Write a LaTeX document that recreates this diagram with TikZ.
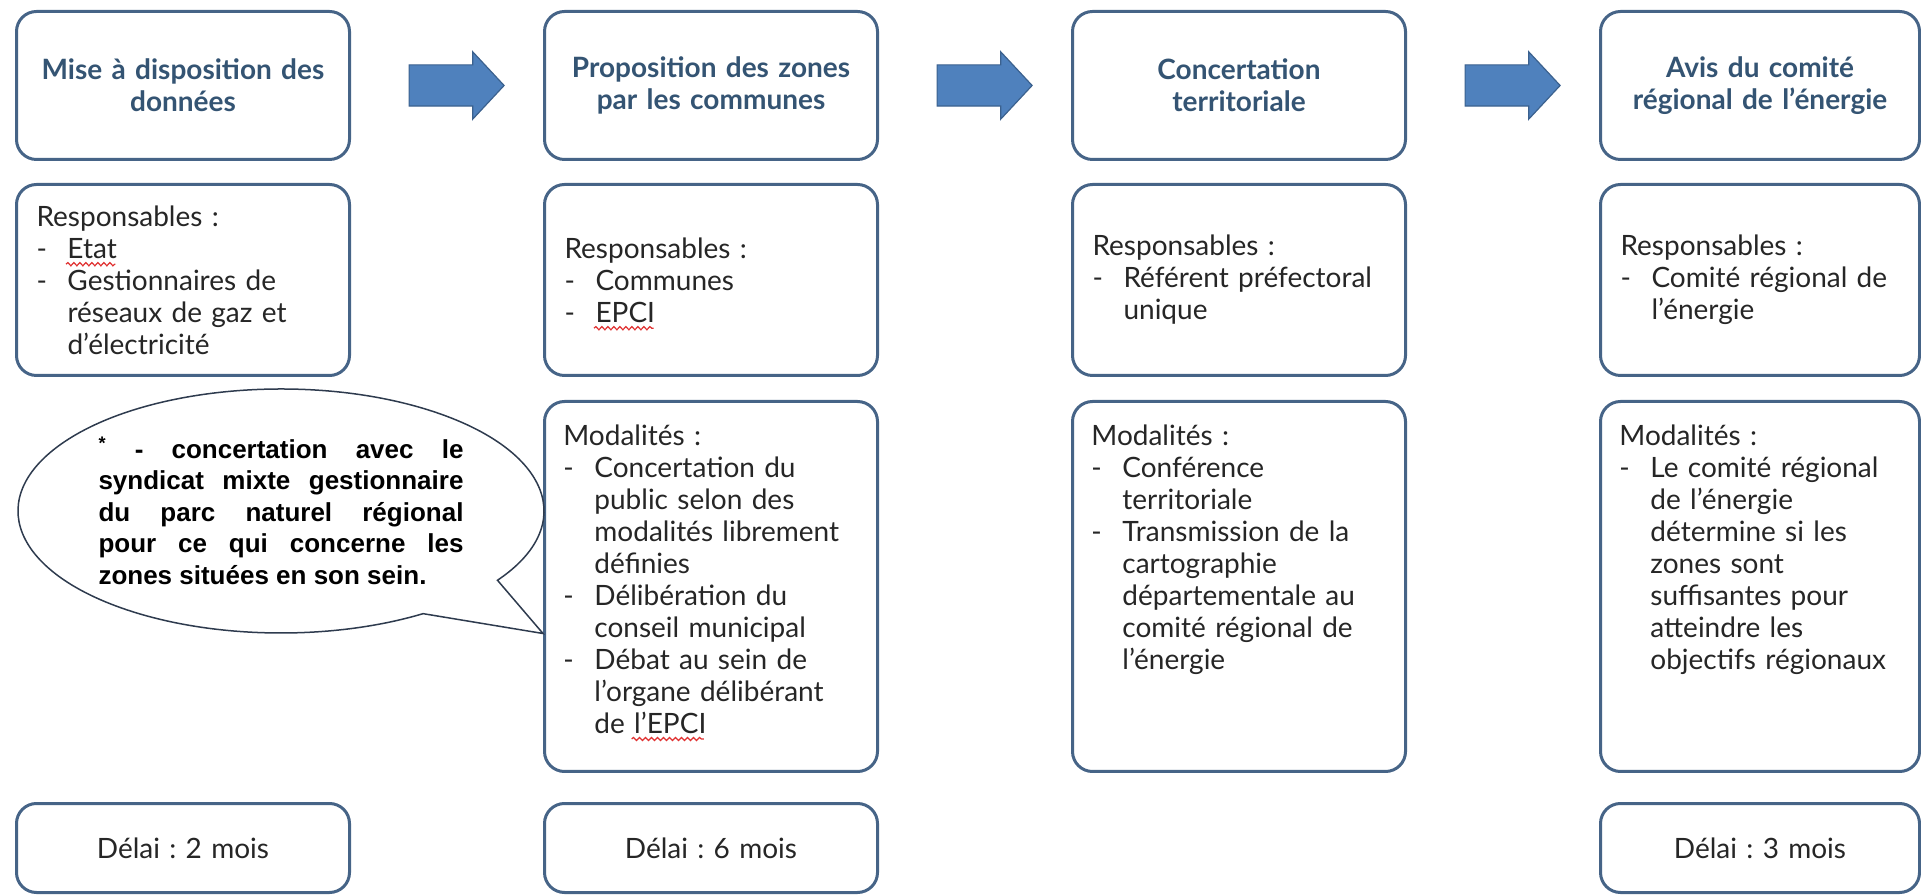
\documentclass[tikz,border=0pt]{standalone}
\usepackage{fontspec}
\setmainfont{Lato}
\newfontfamily\arialfont{Liberation Sans}
\usetikzlibrary{positioning,calc,shapes.arrows,decorations.pathmorphing}
\frenchspacing

\definecolor{colcadre}{HTML}{466487}
\definecolor{coltitre}{HTML}{345473}
\definecolor{colfleche}{HTML}{4F81BD}
\definecolor{coltexte}{HTML}{262626}
\definecolor{colbulle}{HTML}{2E3B4E}
\definecolor{colfaute}{HTML}{E03030}

\newcommand\tiret{\makebox[15.5pt][l]{-}}
\newcommand\retrait{\hspace*{15.5pt}}
\newlength\lgEtat
\newlength\lgEpci
\newlength\lgLepci
\newlength\lgDe
\AtBeginDocument{%
  \settowidth\lgEtat{\fontsize{14}{16}\selectfont Etat}%
  \settowidth\lgEpci{\fontsize{14}{16}\selectfont EPCI}%
  \settowidth\lgLepci{\fontsize{14}{16}\selectfont l’EPCI}%
  \settowidth\lgDe{\fontsize{14}{16}\selectfont de\ }}

\tikzset{
  boite/.style={draw=colcadre,line width=1.5pt,rounded corners=10pt,fill=white,
    anchor=north west,minimum width=166.5pt,inner xsep=10pt,text width=146.5pt,
    text=coltexte,font=\fontsize{14}{16}\selectfont},
  etroite/.style={minimum width=159.5pt,text width=139.5pt},
  titrebox/.style={boite,minimum height=74pt,align=center,text=coltitre,
    font=\fontsize{14}{16}\selectfont\bfseries},
  respbox/.style={boite,minimum height=95.5pt,align=left},
  modbox/.style={boite,minimum height=185pt},
  modtxt/.style={inner sep=0pt,text width=146.5pt,align=left,text=coltexte,
    font=\fontsize{14}{16}\selectfont},
  delaibox/.style={boite,minimum height=44.5pt,align=center},
  fleche/.style={single arrow,draw=colfleche!75!black,line width=0.6pt,fill=colfleche,
    inner xsep=0pt,inner ysep=10pt,minimum height=47.5pt,
    single arrow head extend=6.5pt,single arrow tip angle=94},
  bulletxt/.style={inner sep=0pt,text width=182.5pt,align=justify,text=black,
    font=\arialfont\bfseries\fontsize{13}{15.75}\selectfont},
  bullecontour/.style={draw=colbulle,line width=0.75pt},
  faute/.style={draw=colfaute,line width=0.6pt,decorate,
    decoration={snake,amplitude=0.8pt,segment length=3pt}}
}

\begin{document}
\begin{tikzpicture}
\useasboundingbox (0,0) rectangle (960.5pt,447pt);

% titres des etapes
\node [titrebox] (t1) at(7.5pt,442pt){Mise à disposition des\\données};
\node [titrebox] (t2) at(271.5pt,442pt){Proposition des zones\\par les communes};
\node [titrebox] (t3) at(535.5pt,442pt){Concertation\\territoriale};
\node [titrebox,etroite] (t4) at(799.5pt,442pt){Avis du comité\\régional de l’énergie};

% fleches
\node [fleche] (f1) at($(t1.east)!0.5!(t2.west)$){};
\node [fleche] (f2) at($(t2.east)!0.5!(t3.west)$){};
\node [fleche] (f3) at($(t3.east)!0.5!(t4.west)$){};

% responsables
\node [respbox] (r1) at(7.5pt,355.5pt){Responsables :\\
  \tiret Etat\\
  \tiret Gestionnaires de\\
  \retrait réseaux de gaz et\\
  \retrait d’électricité};
\node [respbox] (r2) at(271.5pt,355.5pt){Responsables :\\
  \tiret Communes\\
  \tiret EPCI};
\node [respbox] (r3) at(535.5pt,355.5pt){Responsables :\\
  \tiret Référent préfectoral\\
  \retrait unique};
\node [respbox,etroite] (r4) at(799.5pt,355.5pt){Responsables :\\
  \tiret Comité régional de\\
  \retrait l’énergie};

% modalites
\node [modbox] (mod2) at(271.5pt,247pt){};
\node [modbox] (mod3) at(535.5pt,247pt){};
\node [modbox,etroite] (mod4) at(799.5pt,247pt){};
\node [modtxt,below right=12pt and 10pt of mod2.north west] (mod2t){Modalités :\\
  \tiret Concertation du\\
  \retrait public selon des\\
  \retrait modalités librement\\
  \retrait définies\\
  \tiret Délibération du\\
  \retrait conseil municipal\\
  \tiret Débat au sein de\\
  \retrait l’organe délibérant\\
  \retrait de l’EPCI};
\node [modtxt,below right=12pt and 10pt of mod3.north west] (mod3t){Modalités :\\
  \tiret Conférence\\
  \retrait territoriale\\
  \tiret Transmission de la\\
  \retrait cartographie\\
  \retrait départementale au\\
  \retrait comité régional de\\
  \retrait l’énergie};
\node [modtxt,below right=12pt and 10pt of mod4.north west] (mod4t){Modalités :\\
  \tiret Le comité régional\\
  \retrait de l’énergie\\
  \retrait détermine si les\\
  \retrait zones sont\\
  \retrait suffisantes pour\\
  \retrait atteindre les\\
  \retrait objectifs régionaux};

% soulignements du correcteur
\draw [faute] ($(r1.west|-r1.base)+(25.5pt,-19pt)$) -- ++(\lgEtat,0pt);
\draw [faute] ($(r2.west|-r2.base)+(25.5pt,-35pt)$) -- ++(\lgEpci,0pt);
\draw [faute] ($(mod2t.west|-mod2t.base)+(15.5pt,-147pt)+(\lgDe,0pt)$) -- ++(\lgLepci,0pt);

% delais
\node [delaibox] (d1) at(7.5pt,46pt){Délai : 2 mois};
\node [delaibox] (d2) at(271.5pt,46pt){Délai : 6 mois};
\node [delaibox,etroite] (d4) at(799.5pt,46pt){Délai : 3 mois};

% bulle
\node [bulletxt] (bulle) at(140.5pt,191.5pt){\textsuperscript{*} - concertation avec le\linebreak
  syndicat mixte gestionnaire\linebreak
  du parc naturel régional\linebreak
  pour ce qui concerne les\linebreak
  zones situées en son sein.};
\coordinate (pointe) at($(mod2.west)+(0,-23.5pt)$);
\draw [bullecontour] (bulle.center) ++(-34.6:131.5pt and 61pt)
  arc[start angle=-34.6,end angle=302.7,x radius=131.5pt,y radius=61pt] -- (pointe) -- cycle;

\end{tikzpicture}
\end{document}
